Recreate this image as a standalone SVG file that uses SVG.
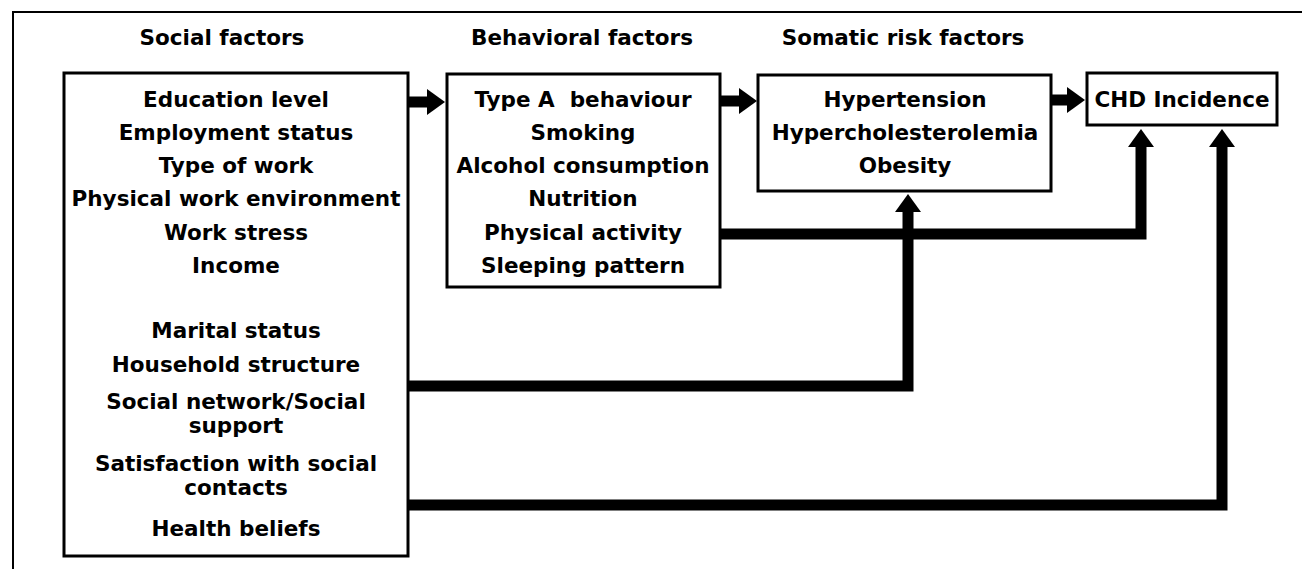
<svg xmlns="http://www.w3.org/2000/svg" width="1302" height="569" viewBox="0 0 1302 569">
  <style>
    .box { fill: #ffffff; stroke: #000000; stroke-width: 3; }
    .frame { fill: none; stroke: #000000; stroke-width: 2; }
    .t { font-family: "DejaVu Sans", "Liberation Sans", sans-serif; font-weight: bold; font-size: 21.5px; fill: #000000; text-anchor: middle; }
    .conn { fill: none; stroke: #000000; stroke-width: 11; stroke-linejoin: miter; stroke-linecap: butt; }
  </style>
  <defs>
    <marker id="head" markerUnits="userSpaceOnUse" markerWidth="18" markerHeight="26" viewBox="0 0 18 26" refX="1" refY="13" orient="auto">
      <path d="M0,0 L18,13 L0,26 Z" fill="#000000"/>
    </marker>
  </defs>
  <rect width="1302" height="569" fill="#ffffff"/>
  <path class="frame" d="M13,569 L13,12 L1302,12"/>

  <g id="headers">
    <text class="t" x="222" y="45">Social factors</text>
    <text class="t" x="582" y="45">Behavioral factors</text>
    <text class="t" x="903" y="45">Somatic risk factors</text>
  </g>

  <g id="connectors">
    <path class="conn" d="M408,102 L428,102" marker-end="url(#head)"/>
    <path class="conn" d="M720,101 L740,101" marker-end="url(#head)"/>
    <path class="conn" d="M1051,100 L1068,100" marker-end="url(#head)"/>
    <path class="conn" d="M720,234 L1141,234 L1141,146" marker-end="url(#head)"/>
    <path class="conn" d="M408,386 L908,386 L908,211" marker-end="url(#head)"/>
    <path class="conn" d="M408,505 L1222,505 L1222,146" marker-end="url(#head)"/>
  </g>

  <g id="social">
    <rect class="box" x="64" y="73" width="344" height="483"/>
    <text class="t" x="236" y="107">Education level</text>
    <text class="t" x="236" y="140">Employment status</text>
    <text class="t" x="236" y="173">Type of work</text>
    <text class="t" x="236" y="206">Physical work environment</text>
    <text class="t" x="236" y="240">Work stress</text>
    <text class="t" x="236" y="273">Income</text>
    <text class="t" x="236" y="338">Marital status</text>
    <text class="t" x="236" y="372">Household structure</text>
    <text class="t" x="236" y="409">Social network/Social</text>
    <text class="t" x="236" y="433">support</text>
    <text class="t" x="236" y="471">Satisfaction with social</text>
    <text class="t" x="236" y="495">contacts</text>
    <text class="t" x="236" y="536">Health beliefs</text>
  </g>

  <g id="behavioral">
    <rect class="box" x="447" y="74" width="273" height="213"/>
    <text class="t" x="583" y="107">Type A&#160; behaviour</text>
    <text class="t" x="583" y="140">Smoking</text>
    <text class="t" x="583" y="173">Alcohol consumption</text>
    <text class="t" x="583" y="206">Nutrition</text>
    <text class="t" x="583" y="240">Physical activity</text>
    <text class="t" x="583" y="273">Sleeping pattern</text>
  </g>

  <g id="somatic">
    <rect class="box" x="758" y="75" width="293" height="116"/>
    <text class="t" x="905" y="107">Hypertension</text>
    <text class="t" x="905" y="140">Hypercholesterolemia</text>
    <text class="t" x="905" y="173">Obesity</text>
  </g>

  <g id="chd">
    <rect class="box" x="1087" y="73" width="190" height="52"/>
    <text class="t" x="1182" y="107">CHD Incidence</text>
  </g>
</svg>
